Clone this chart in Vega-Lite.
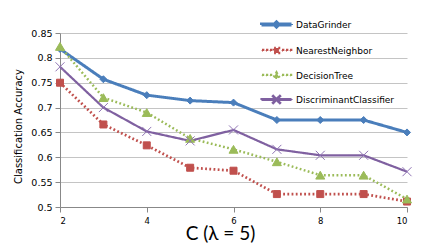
{
  "$schema": "https://vega.github.io/schema/vega-lite/v6.json",
  "width": 347,
  "height": 174,
  "autosize": "none",
  "padding": {"left": 60, "top": 33, "right": 25, "bottom": 45},
  "background": "white",
  "config": {"view": {"stroke": null}, "font": "DejaVu Sans", "point": {"strokeWidth": 0}},
  "data": {"values": [
    {"series": "DataGrinder", "C": 2, "acc": 0.818},
    {"series": "DataGrinder", "C": 3, "acc": 0.757},
    {"series": "DataGrinder", "C": 4, "acc": 0.725},
    {"series": "DataGrinder", "C": 5, "acc": 0.714},
    {"series": "DataGrinder", "C": 6, "acc": 0.71},
    {"series": "DataGrinder", "C": 7, "acc": 0.675},
    {"series": "DataGrinder", "C": 8, "acc": 0.675},
    {"series": "DataGrinder", "C": 9, "acc": 0.675},
    {"series": "DataGrinder", "C": 10, "acc": 0.65},
    {"series": "NearestNeighbor", "C": 2, "acc": 0.75},
    {"series": "NearestNeighbor", "C": 3, "acc": 0.666},
    {"series": "NearestNeighbor", "C": 4, "acc": 0.624},
    {"series": "NearestNeighbor", "C": 5, "acc": 0.579},
    {"series": "NearestNeighbor", "C": 6, "acc": 0.573},
    {"series": "NearestNeighbor", "C": 7, "acc": 0.526},
    {"series": "NearestNeighbor", "C": 8, "acc": 0.526},
    {"series": "NearestNeighbor", "C": 9, "acc": 0.526},
    {"series": "NearestNeighbor", "C": 10, "acc": 0.511},
    {"series": "DecisionTree", "C": 2, "acc": 0.823},
    {"series": "DecisionTree", "C": 3, "acc": 0.72},
    {"series": "DecisionTree", "C": 4, "acc": 0.69},
    {"series": "DecisionTree", "C": 5, "acc": 0.638},
    {"series": "DecisionTree", "C": 6, "acc": 0.616},
    {"series": "DecisionTree", "C": 7, "acc": 0.591},
    {"series": "DecisionTree", "C": 8, "acc": 0.564},
    {"series": "DecisionTree", "C": 9, "acc": 0.564},
    {"series": "DecisionTree", "C": 10, "acc": 0.516},
    {"series": "DiscriminantClassifier", "C": 2, "acc": 0.782},
    {"series": "DiscriminantClassifier", "C": 3, "acc": 0.7},
    {"series": "DiscriminantClassifier", "C": 4, "acc": 0.652},
    {"series": "DiscriminantClassifier", "C": 5, "acc": 0.633},
    {"series": "DiscriminantClassifier", "C": 6, "acc": 0.655},
    {"series": "DiscriminantClassifier", "C": 7, "acc": 0.616},
    {"series": "DiscriminantClassifier", "C": 8, "acc": 0.604},
    {"series": "DiscriminantClassifier", "C": 9, "acc": 0.604},
    {"series": "DiscriminantClassifier", "C": 10, "acc": 0.571}
  ]},
  "encoding": {
    "x": {
      "field": "C", "type": "quantitative",
      "scale": {"domain": [2, 10], "nice": false, "zero": false},
      "axis": {
        "values": [2, 4, 6, 8, 10], "grid": false,
        "title": "C (λ = 5)", "titleFont": "Lato", "titleFontSize": 19, "titleFontWeight": "normal", "titleColor": "#000000",
        "titleX": 160, "titleY": 32, "titleBaseline": "alphabetic", "titleAlign": "center",
        "domainColor": "#888888", "tickColor": "#888888", "tickSize": 5,
        "labelFontSize": 8.5, "labelColor": "#000000", "labelPadding": 4
      }
    },
    "y": {
      "field": "acc", "type": "quantitative",
      "scale": {"domain": [0.5, 0.85], "nice": false, "zero": false},
      "axis": {
        "values": [0.5, 0.55, 0.6, 0.65, 0.7, 0.75, 0.8, 0.85],
        "labelExpr": "format(datum.value, '.2~f')",
        "grid": true, "gridColor": "#c4c4c4", "gridWidth": 1,
        "title": "Classification Accuracy", "titleFontSize": 10, "titleFontWeight": "normal", "titleColor": "#000000",
        "titleX": -42, "titleY": 93, "titleAngle": -90, "titleAlign": "center", "titleBaseline": "middle",
        "domainColor": "#888888", "tickColor": "#888888", "tickSize": 5,
        "labelFontSize": 9.5, "labelColor": "#000000", "labelPadding": 3
      }
    }
  },
  "layer": [
    {
      "mark": {"type": "line", "interpolate": "linear", "strokeCap": "butt"},
      "encoding": {
        "color": {
          "field": "series", "type": "nominal",
          "scale": {"domain": ["DataGrinder", "NearestNeighbor", "DecisionTree", "DiscriminantClassifier"], "range": ["#4a7ebb", "#c0504d", "#9bbb59", "#7f60a0"]}
        },
        "strokeDash": {
          "field": "series", "type": "nominal", "legend": null,
          "scale": {"domain": ["DataGrinder", "NearestNeighbor", "DecisionTree", "DiscriminantClassifier"], "range": [[1, 0], [1.8, 2.4], [1.8, 2.4], [1, 0]]}
        },
        "strokeWidth": {
          "field": "series", "type": "nominal", "legend": null,
          "scale": {"domain": ["DataGrinder", "NearestNeighbor", "DecisionTree", "DiscriminantClassifier"], "range": [3, 2.2, 2.2, 3]}
        }
      }
    },
    {
      "transform": [{"filter": "datum.series === 'DataGrinder'"}],
      "mark": {"type": "point", "shape": "diamond", "filled": true, "fill": "#4a7ebb", "stroke": "#4a7ebb", "strokeWidth": 1, "opacity": 1, "size": 49}
    },
    {
      "transform": [{"filter": "datum.series === 'NearestNeighbor'"}],
      "mark": {"type": "point", "shape": "square", "filled": true, "fill": "#c0504d", "stroke": "#c0504d", "strokeWidth": 1, "opacity": 1, "size": 49}
    },
    {
      "transform": [{"filter": "datum.series === 'DecisionTree'"}],
      "mark": {"type": "point", "shape": "triangle-up", "filled": true, "fill": "#9bbb59", "stroke": "#9bbb59", "strokeWidth": 1, "opacity": 1, "size": 81}
    },
    {
      "transform": [{"filter": "datum.series === 'DiscriminantClassifier'"}],
      "mark": {"type": "point", "shape": "M-1,-1L1,1M-1,1L1,-1", "filled": false, "stroke": "#8f74b4", "strokeWidth": 1, "opacity": 1, "size": 81}
    },
    {
      "mark": {"type": "point", "filled": true, "opacity": 0, "strokeWidth": 0},
      "encoding": {
        "color": {
          "field": "series", "type": "nominal",
          "legend": {
            "orient": "none", "legendX": 205, "legendY": -20, "title": null,
            "symbolSize": 400, "symbolStrokeWidth": 0, "symbolOpacity": 1,
            "symbolFillColor": {"expr": "scale('color', datum.value)"},
            "labelOffset": 8, "rowPadding": 5, "padding": 0,
            "labelFont": "DejaVu Sans", "labelFontSize": 9, "labelColor": "#000000"
          }
        },
        "shape": {
          "field": "series", "type": "nominal",
          "scale": {"domain": ["DataGrinder", "NearestNeighbor", "DecisionTree", "DiscriminantClassifier"], "range": [
            "M-1.5,-0.05L1.5,-0.05L1.5,0.05L-1.5,0.05ZM0,-0.26L0.26,0L0,0.26L-0.26,0Z",
            "M-1.45,-0.04L-1.35,-0.04L-1.35,0.04L-1.45,0.04ZM-1.05,-0.04L-0.95,-0.04L-0.95,0.04L-1.05,0.04ZM-0.65,-0.04L-0.55,-0.04L-0.55,0.04L-0.65,0.04ZM0.55,-0.04L0.65,-0.04L0.65,0.04L0.55,0.04ZM0.95,-0.04L1.05,-0.04L1.05,0.04L0.95,0.04ZM1.35,-0.04L1.45,-0.04L1.45,0.04L1.35,0.04ZM-0.24,-0.24L0.24,-0.24L0.24,0.24L-0.24,0.24Z",
            "M-1.45,-0.04L-1.35,-0.04L-1.35,0.04L-1.45,0.04ZM-1.05,-0.04L-0.95,-0.04L-0.95,0.04L-1.05,0.04ZM-0.65,-0.04L-0.55,-0.04L-0.55,0.04L-0.65,0.04ZM0.55,-0.04L0.65,-0.04L0.65,0.04L0.55,0.04ZM0.95,-0.04L1.05,-0.04L1.05,0.04L0.95,0.04ZM1.35,-0.04L1.45,-0.04L1.45,0.04L1.35,0.04ZM0,-0.3L0.3,0.22L-0.3,0.22Z",
            "M-1.5,-0.05L1.5,-0.05L1.5,0.05L-1.5,0.05ZM-0.33,-0.37L0.37,0.33L0.33,0.37L-0.37,-0.33ZM-0.37,0.33L0.33,-0.37L0.37,-0.33L-0.33,0.37Z"
          ]},
          "legend": {
            "orient": "none", "legendX": 205, "legendY": -20, "title": null,
            "symbolSize": 400, "symbolStrokeWidth": 0, "symbolOpacity": 1,
            "symbolFillColor": {"expr": "scale('color', datum.value)"},
            "labelOffset": 8, "rowPadding": 5, "padding": 0,
            "labelFont": "DejaVu Sans", "labelFontSize": 9, "labelColor": "#000000"
          }
        }
      }
    }
  ]
}
